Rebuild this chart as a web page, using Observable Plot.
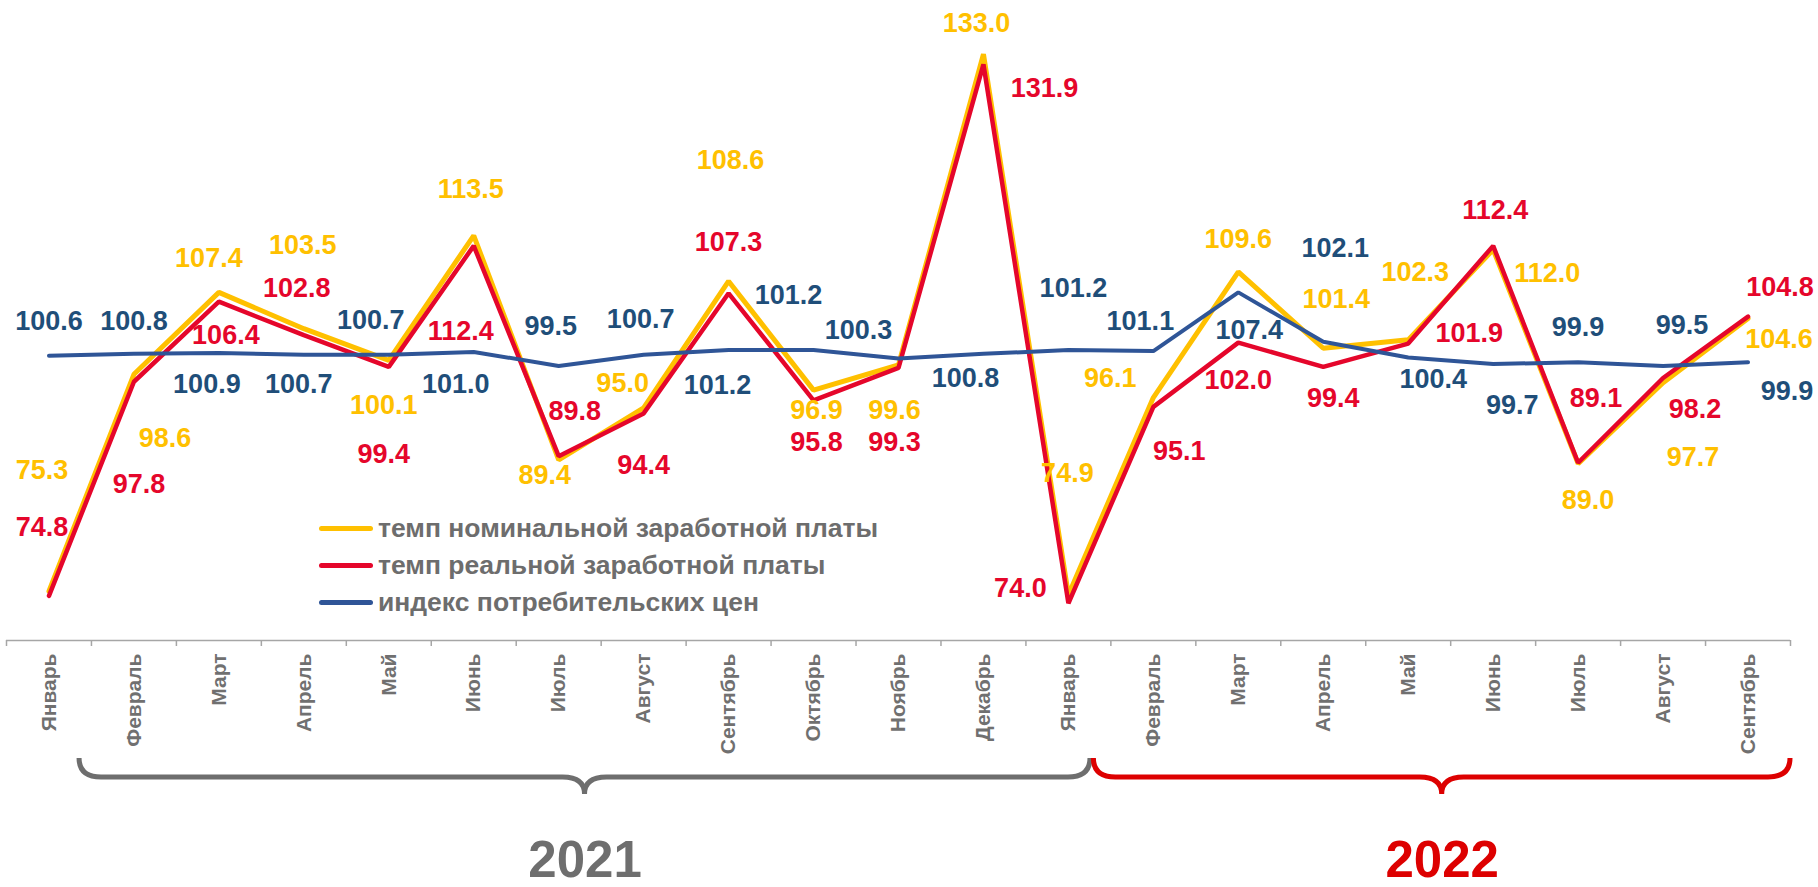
<!DOCTYPE html>
<html><head><meta charset="utf-8">
<script src="https://cdn.jsdelivr.net/npm/d3@7"></script>
<script src="https://cdn.jsdelivr.net/npm/@observablehq/plot@0.6"></script>
<style>
body{margin:0;background:#fff;}
#wrap{position:relative;width:1818px;height:887px;overflow:hidden;}
#legend{position:absolute;left:319px;top:510px;font:bold 26.5px "Liberation Sans",Arial,sans-serif;color:#6d6d6d;}
.row{display:flex;align-items:center;height:37px;white-space:nowrap;}
.sw{width:54px;height:5px;border-radius:3px;margin-right:5px;}
</style></head><body><div id="wrap"></div>
<script>
// ---- data ----
const months = ["Январь","Февраль","Март","Апрель","Май","Июнь","Июль","Август","Сентябрь","Октябрь","Ноябрь","Декабрь",
                "Январь","Февраль","Март","Апрель","Май","Июнь","Июль","Август","Сентябрь"];
const nominal = [75.3, 98.6, 107.4, 103.5, 100.1, 113.5, 89.4, 95.0, 108.6, 96.9, 99.6, 133.0,
                 74.9, 96.1, 109.6, 101.4, 102.3, 112.0, 89.0, 97.7, 104.6];
const real    = [74.8, 97.8, 106.4, 102.8, 99.4, 112.4, 89.8, 94.4, 107.3, 95.8, 99.3, 131.9,
                 74.0, 95.1, 102.0, 99.4, 101.9, 112.4, 89.1, 98.2, 104.8];
const cpi     = [100.6, 100.8, 100.9, 100.7, 100.7, 101.0, 99.5, 100.7, 101.2, 101.2, 100.3, 100.8,
                 101.2, 101.1, 107.4, 102.1, 100.4, 99.7, 99.9, 99.5, 99.9];
const seriesNames = ["темп номинальной заработной платы", "темп реальной заработной платы", "индекс потребительских цен"];
const years = ["2021", "2022"];
// month-index span covered by each year brace
const yearSpans = [[0.36, 12.26], [12.3, 20.5]];

// ---- layout / style ----
const lineColors = ["#FFC000", "#E5062B", "#2F5597"];
const labelColors = ["#FFC000", "#E5062B", "#1F4E79"];
const lineWidths = [5, 4.5, 4];
const yearColors = ["#6e6e6e", "#dd0000"];
// per-label pixel offsets from its point
const nomDx = [-7, 31, -10, -1, -5, -3, -14, -21, 2, 3, -4, -7, -1, -43, 0, 13, 7, 54, 10, 30, 31];
const nomDy = [-121, 64, -34, -83, 45, -46, 15, -24, -121, 20, 45, -31, -122, -19, -33, -49, -68, 24, 37, 75, 21];
const realDx = [-7, 5, 7, -7, -5, -13, 16, 0, 0, 3, -4, 61, -48, 26, 0, 10, 61, 2, 18, 32, 32];
const realDy = [-68, 103, 34, -47, 88, 86, -45, 52, -51, 42, 75, 24, -15, 44, 38, 32, -10, -35, -64, 31, -29];
const cpiDx = [0, 0, -12, -5, -18, -18, -8, -3, -11, -25, -40, -18, 5, -13, 11, 12, 25, 19, 0, 19, 39];
const cpiDy = [-34, -32, 31, 30, -34, 32, -40, -35, 35, -55, -28, 25, -62, -30, 38, -93, 22, 41, -35, -41, 29];

const FONT = "Liberation Sans, Arial, sans-serif";
const idx = d3.range(months.length);
const series = [nominal, real, cpi];
const offsets = [[nomDx, nomDy], [realDx, realDy], [cpiDx, cpiDy]];

const labelMarks = [];
series.forEach((vals, s) => {
  idx.forEach(i => {
    labelMarks.push(Plot.text([i], {
      x: d => d, y: d => vals[d], text: d => vals[d].toFixed(1),
      dx: offsets[s][0][i], dy: offsets[s][1][i],
      fill: labelColors[s], fontSize: 27, fontWeight: "bold", textAnchor: "middle", lineAnchor: "middle"
    }));
  });
});

const braceMark = (index, scales, values, dims) => {
  const g = d3.create("svg:g");
  const yb = dims.height - dims.marginBottom;
  yearSpans.forEach((sp, k) => {
    const x0 = scales.x(sp[0]), x1 = scales.x(sp[1]), xm = (x0 + x1) / 2;
    const yTop = yb + 118, yMid = yb + 137, yTip = yb + 154, r = 22;
    g.append("path")
      .attr("d", `M${x0},${yTop} Q${x0},${yMid} ${x0 + r},${yMid} L${xm - r},${yMid} Q${xm},${yMid} ${xm},${yTip} Q${xm},${yMid} ${xm + r},${yMid} L${x1 - r},${yMid} Q${x1},${yMid} ${x1},${yTop}`)
      .attr("fill", "none").attr("stroke", yearColors[k]).attr("stroke-width", 5).attr("stroke-linecap", "butt");
  });
  return g.node();
};

const chart = Plot.plot({
  width: 1818, height: 887,
  marginLeft: 6, marginRight: 28, marginTop: 35, marginBottom: 247,
  style: {fontFamily: FONT, background: "white", overflow: "visible"},
  x: {type: "linear", domain: [-0.5, months.length - 0.5], axis: null},
  y: {domain: [70, 135], axis: null},
  marks: [
    Plot.ruleY([70], {stroke: "#a6a6a6", strokeWidth: 1.5}),
    Plot.ruleX(d3.range(months.length + 1).map(i => i - 0.5), {y1: 70, y2: 70, insetBottom: -6, stroke: "#a6a6a6", strokeWidth: 1.5}),
    Plot.text(idx, {x: d => d, text: d => months[d], frameAnchor: "bottom", rotate: -90, textAnchor: "end", lineAnchor: "middle",
      dy: 13, fontSize: 21, fontWeight: "bold", fill: "#707070"}),
    ...series.map((vals, s) => Plot.line(idx, {x: d => d, y: d => vals[d], stroke: lineColors[s], strokeWidth: lineWidths[s], strokeLinejoin: "miter"})),
    ...labelMarks,
    braceMark,
    ...years.map((yr, k) => Plot.text([yr], {x: () => (yearSpans[k][0] + yearSpans[k][1]) / 2, frameAnchor: "bottom", dy: 236, lineAnchor: "bottom",
      text: d => d, fill: yearColors[k], fontSize: 51, fontWeight: "bold"}))
  ]
});
const wrap = document.getElementById("wrap");
wrap.appendChild(chart);

const legend = document.createElement("div");
legend.id = "legend";
seriesNames.forEach((n, s) => {
  const row = document.createElement("div");
  row.className = "row";
  const sw = document.createElement("div");
  sw.className = "sw"; sw.style.background = lineColors[s];
  const t = document.createElement("span"); t.textContent = n;
  row.appendChild(sw); row.appendChild(t);
  legend.appendChild(row);
});
wrap.appendChild(legend);
</script></body></html>
